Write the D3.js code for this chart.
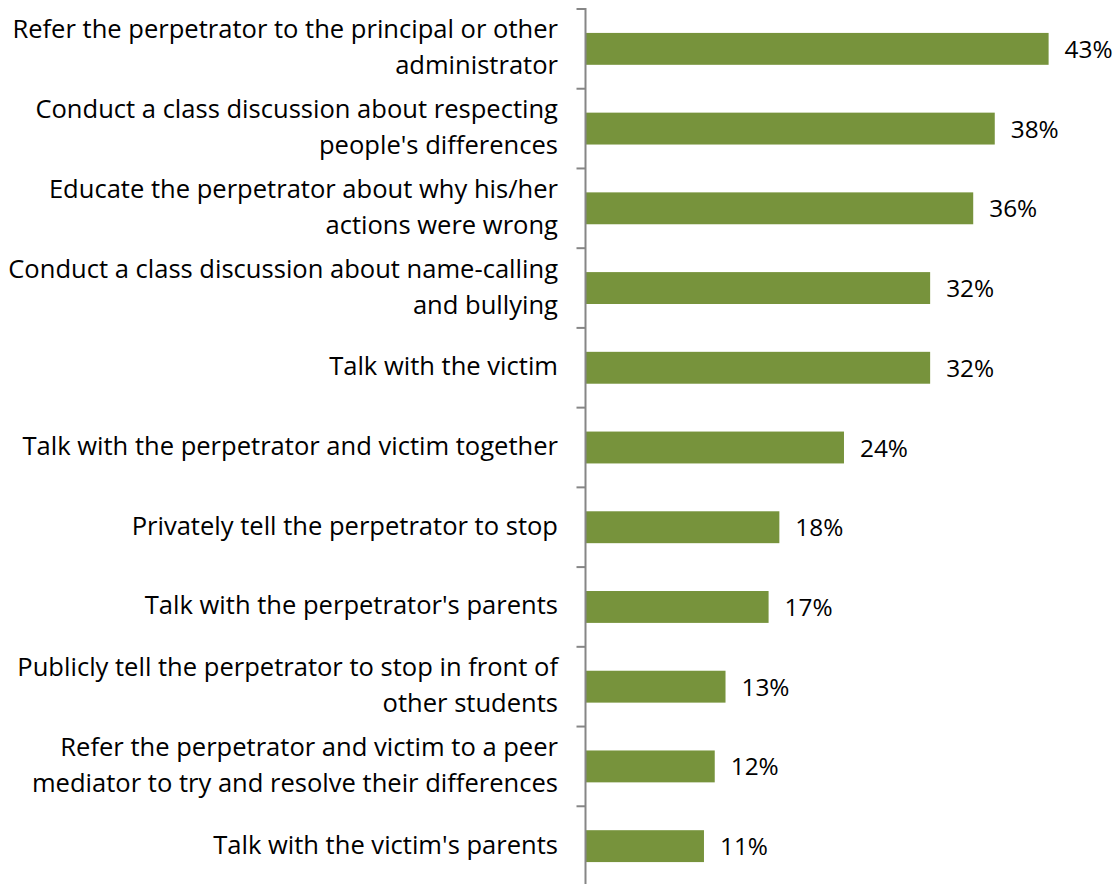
<!DOCTYPE html>
<html>
<head>
<meta charset="utf-8">
<script src="https://cdn.jsdelivr.net/npm/d3@7"></script>
<style>
  html, body { margin: 0; padding: 0; background: #ffffff; }
  svg { display: block; }
</style>
</head>
<body>
<svg id="chart" width="1119" height="884"></svg>
<script>
// Responses, one per bar, top to bottom (each label split into its wrapped lines)
const categories = [
  ["Refer the perpetrator to the principal or other", "administrator"],
  ["Conduct a class discussion about respecting", "people's differences"],
  ["Educate the perpetrator about why his/her", "actions were wrong"],
  ["Conduct a class discussion about name-calling", "and bullying"],
  ["Talk with the victim"],
  ["Talk with the perpetrator and victim together"],
  ["Privately tell the perpetrator to stop"],
  ["Talk with the perpetrator's parents"],
  ["Publicly tell the perpetrator to stop in front of", "other students"],
  ["Refer the perpetrator and victim to a peer", "mediator to try and resolve their differences"],
  ["Talk with the victim's parents"]
];
// Share of teachers choosing each response (%)
const values = [43, 38, 36, 32, 32, 24, 18, 17, 13, 12, 11];

const svg = d3.select("#chart");
const font = "'Open Sans', 'Noto Sans', sans-serif";

const axisX = 585.5;
const labelRight = 558;
const labelWidth = 550;   // room for the longest category line
const plotTop = 9, plotBottom = 886;

const y = d3.scaleBand()
  .domain(d3.range(categories.length))
  .range([plotTop, plotBottom])
  .paddingInner(0.6)
  .paddingOuter(0.3);

const x = d3.scaleLinear().domain([0, 50]).range([axisX, axisX + 538.5]);

// measure a string at a given size
function measure(text, size) {
  const t = svg.append("text").attr("font-family", font).attr("font-size", size).text(text);
  const w = t.node().getComputedTextLength();
  t.remove();
  return w;
}
// pick a font size so the longest label line fills the label column
const widest = d3.max(categories.flat(), s => measure(s, 20));
const labelSize = Math.min(26, 20 * labelWidth / widest);
const valueSize = Math.min(26, 20 * 48 / measure("43%", 20));

// bars
svg.append("g").selectAll("rect")
  .data(values)
  .join("rect")
  .attr("x", x(0))
  .attr("y", (d, i) => y(i))
  .attr("width", d => x(d) - x(0))
  .attr("height", y.bandwidth())
  .attr("fill", "#77933c");

// category axis line with ticks at band boundaries
const bounds = d3.range(categories.length + 1)
  .map(i => plotTop + i * (plotBottom - plotTop) / categories.length);
const axis = svg.append("g");
axis.append("line")
  .attr("x1", axisX).attr("x2", axisX)
  .attr("y1", 8).attr("y2", 884)
  .attr("stroke", "#868686").attr("stroke-width", 2);
axis.selectAll("line.tick")
  .data(bounds)
  .join("line")
  .attr("class", "tick")
  .attr("x1", axisX - 9).attr("x2", axisX)
  .attr("y1", d => d).attr("y2", d => d)
  .attr("stroke", "#868686").attr("stroke-width", 2);

// category labels, right-aligned against the axis
const lineGap = 36;
svg.append("g").selectAll("text")
  .data(categories)
  .join("text")
  .attr("text-anchor", "end")
  .attr("font-family", font)
  .attr("font-size", labelSize)
  .attr("fill", "#000")
  .each(function(lines, i) {
    const cy = y(i) + y.bandwidth() / 2;
    const first = cy - (lines.length - 1) * lineGap / 2;
    d3.select(this).selectAll("tspan")
      .data(lines)
      .join("tspan")
      .attr("x", labelRight)
      .attr("y", (l, k) => first + k * lineGap + 7.5)
      .text(l => l);
  });

// value labels
svg.append("g").selectAll("text")
  .data(values)
  .join("text")
  .attr("x", d => x(d) + 16)
  .attr("y", (d, i) => y(i) + y.bandwidth() / 2 + 9)
  .attr("font-family", font)
  .attr("font-size", valueSize)
  .attr("fill", "#000")
  .text(d => d + "%");
</script>
</body>
</html>
